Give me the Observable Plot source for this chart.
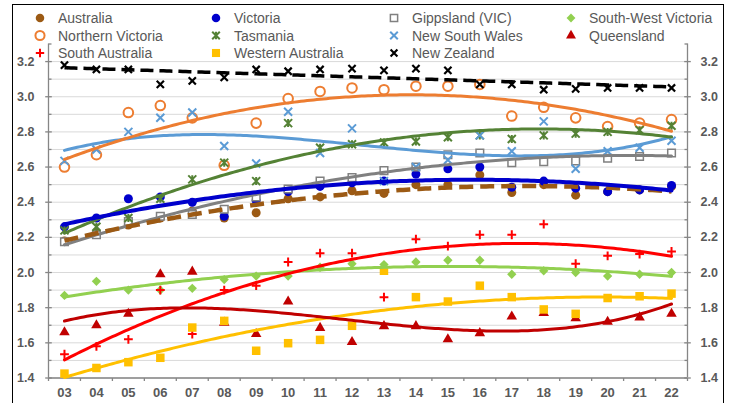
<!DOCTYPE html>
<html>
<head>
<meta charset="utf-8">
<script src="https://cdn.jsdelivr.net/npm/d3@7"></script>
<script src="https://cdn.jsdelivr.net/npm/@observablehq/plot@0.6"></script>
<style>
  html, body { margin: 0; padding: 0; background: #fff; }
  #wrap { position: relative; width: 733px; height: 403px; overflow: hidden; font-family: "Liberation Sans", Arial, sans-serif; }
  #border { position: absolute; left: 12px; top: 4px; width: 712px; height: 430px; border: 1.5px solid #000; box-sizing: border-box; pointer-events: none; }
  #legend { position: absolute; left: 0; top: 0; pointer-events: none; }
</style>
</head>
<body>
<div id="wrap"><div id="chart"></div><svg id="legend" width="733" height="62"></svg><div id="border"></div></div>
<script>
// ---- data ----
const years = ["03","04","05","06","07","08","09","10","11","12","13","14","15","16","17","18","19","20","21","22"];
const australia      = [2.18, 2.23, 2.27, 2.31, 2.35, 2.31, 2.34, 2.42, 2.43, 2.465, 2.45, 2.50, 2.50, 2.555, 2.455, 2.50, 2.44, 2.46, 2.47, 2.49];
const victoria       = [2.26, 2.31, 2.42, 2.43, 2.40, 2.32, 2.41, 2.46, 2.49, 2.51, 2.52, 2.56, 2.59, 2.60, 2.485, 2.52, 2.48, 2.46, 2.47, 2.495];
const gippsland      = [2.175, 2.215, 2.29, 2.32, 2.33, 2.36, 2.43, 2.475, 2.52, 2.54, 2.58, 2.60, 2.67, 2.68, 2.625, 2.63, 2.635, 2.65, 2.66, 2.68];
const southWestVic   = [1.87, 1.95, 1.90, 1.90, 1.91, 1.96, 1.98, 1.98, 2.03, 2.05, 2.045, 2.06, 2.07, 2.07, 1.99, 2.01, 2.00, 1.98, 1.99, 2.00];
const northernVic    = [2.60, 2.67, 2.91, 2.95, 2.88, 2.61, 2.85, 2.99, 3.03, 3.05, 3.04, 3.06, 3.06, 3.07, 2.89, 2.94, 2.88, 2.83, 2.85, 2.87];
const tasmania       = [2.24, 2.26, 2.31, 2.42, 2.53, 2.625, 2.52, 2.85, 2.71, 2.73, 2.74, 2.745, 2.77, 2.78, 2.76, 2.78, 2.79, 2.80, 2.81, 2.835];
const newSouthWales  = [2.635, 2.70, 2.80, 2.88, 2.91, 2.72, 2.62, 2.915, 2.68, 2.82, 2.52, 2.60, 2.64, 2.78, 2.69, 2.86, 2.59, 2.69, 2.71, 2.75];
const queensland     = [1.66, 1.70, 1.765, 1.99, 2.005, 1.715, 1.65, 1.835, 1.685, 1.605, 1.695, 1.695, 1.62, 1.655, 1.75, 1.77, 1.74, 1.72, 1.745, 1.765];
const southAustralia = [1.535, 1.58, 1.62, 1.90, 1.65, 1.90, 1.925, 2.06, 2.11, 2.11, 1.86, 2.19, 2.15, 2.215, 2.215, 2.275, 2.05, 2.095, 2.105, 2.12];
const westernAus     = [1.425, 1.457, 1.49, 1.515, 1.687, 1.725, 1.555, 1.598, 1.617, 1.697, 2.01, 1.86, 1.835, 1.925, 1.86, 1.79, 1.765, 1.855, 1.865, 1.88];
const newZealand     = [3.18, 3.155, 3.155, 3.07, 3.09, 3.11, 3.155, 3.145, 3.155, 3.16, 3.15, 3.16, 3.15, 3.07, 3.07, 3.04, 3.045, 3.05, 3.05, 3.05];
const seriesNames = ["Australia","Victoria","Gippsland (VIC)","South-West Victoria","Northern Victoria","Tasmania","New South Wales","Queensland","South Australia","Western Australia","New Zealand"];
const trendOrders = [2, 2, 2, 2, 2, 2, 3, 3, 2, 2, 1];
const yTickLabels = ["1.4","1.6","1.8","2.0","2.2","2.4","2.6","2.8","3.0","3.2"];
const yMinorTicks = ["1.5","1.7","1.9","2.1","2.3","2.5","2.7","2.9","3.1","3.3"];

// ---- symbols ----
const rad = size => Math.sqrt(size / Math.PI);
const symX = {draw(c, s){const r = rad(s); c.moveTo(-r,-r); c.lineTo(r,r); c.moveTo(r,-r); c.lineTo(-r,r);}};
const symPlus = {draw(c, s){const r = rad(s)*1.1; c.moveTo(-r,0); c.lineTo(r,0); c.moveTo(0,-r); c.lineTo(0,r);}};
const symStar = {draw(c, s){const r = rad(s); c.moveTo(-r,-r); c.lineTo(r,r); c.moveTo(r,-r); c.lineTo(-r,r); c.moveTo(0,-r); c.lineTo(0,r);}};
const tickCross = {draw(c, s){const r = rad(s); c.moveTo(-r,0); c.lineTo(r,0);}};
const tickRight = {draw(c, s){const r = rad(s); c.moveTo(0,0); c.lineTo(r,0);}};
const tickLeft  = {draw(c, s){const r = rad(s); c.moveTo(0,0); c.lineTo(-r,0);}};
const tickDown  = {draw(c, s){const r = rad(s); c.moveTo(0,0); c.lineTo(0,r);}};

const values = [australia, victoria, gippsland, southWestVic, northernVic, tasmania, newSouthWales, queensland, southAustralia, westernAus, newZealand];
const styles = [
  {color:"#9C5A14", symbol:"circle", r:4.5, fill:true, lw:4.5, dash:"14,7"},
  {color:"#0000CC", symbol:"circle", r:4.5, fill:true, lw:4},
  {color:"#808080", symbol:"square", r:4.3, fill:false, sw:1.5, lw:3},
  {color:"#92D050", symbol:"diamond2", r:4.2, fill:true, lw:3},
  {color:"#ED7D31", symbol:"circle", r:4.8, fill:false, sw:2, lw:3},
  {color:"#548235", symbol:symStar, r:4, fill:false, sw:2, lw:3},
  {color:"#5B9BD5", symbol:symX, r:4, fill:false, sw:2, lw:3},
  {color:"#C00000", symbol:"triangle", r:3.9, fill:true, lw:3},
  {color:"#FF0000", symbol:symPlus, r:4, fill:false, sw:2, lw:3},
  {color:"#FFC000", symbol:"square", r:4.8, fill:true, lw:3},
  {color:"#000000", symbol:symX, r:3.6, fill:false, sw:2.2, lw:3.5, dash:"13,6"}
];

// ---- polynomial trend (least squares, like a spreadsheet polynomial trendline) ----
function polyfit(xs, ys, deg) {
  const m = deg + 1, xm = d3.mean(xs), sc = 10;
  const A = Array.from({length: m}, () => Array(m + 1).fill(0));
  xs.forEach((x, i) => {
    const t = (x - xm) / sc, p = d3.range(m).map(k => t ** k);
    for (let r = 0; r < m; r++) { for (let c = 0; c < m; c++) A[r][c] += p[r] * p[c]; A[r][m] += p[r] * ys[i]; }
  });
  for (let c = 0; c < m; c++) {
    let piv = c;
    for (let r = c + 1; r < m; r++) if (Math.abs(A[r][c]) > Math.abs(A[piv][c])) piv = r;
    [A[c], A[piv]] = [A[piv], A[c]];
    for (let r = 0; r < m; r++) if (r !== c) { const f = A[r][c] / A[c][c]; for (let k = c; k <= m; k++) A[r][k] -= f * A[c][k]; }
  }
  const coef = d3.range(m).map(k => A[k][m] / A[k][k]);
  return x => coef.reduce((s, c, k) => s + c * ((x - xm) / sc) ** k, 0);
}

const xs = years.map(Number);
const points = [], trends = [];
values.forEach((vals, si) => {
  vals.forEach((v, i) => points.push({series: si, x: xs[i], y: v}));
  const f = polyfit(xs, vals, trendOrders[si]);
  const lo = d3.min(xs), hi = d3.max(xs);
  for (let t = lo; t <= hi + 1e-9; t += 0.1) trends.push({series: si, x: t, y: f(t)});
});

const xMin = d3.min(xs) - 0.5, xMax = d3.max(xs) + 0.5;
const yMajor = yTickLabels.map(Number), yMinor = yMinorTicks.map(Number);
const grid = [...yMajor, ...yMinor.filter(v => v < d3.max(yMajor) + 1e-9)];
const xBounds = d3.range(xMin, xMax + 0.01, 1);
const axisColor = "#868686", textColor = "#595959";
const yFmt = d => yTickLabels[d3.minIndex(yMajor, v => Math.abs(v - d))];
const xFmt = d => years[d3.minIndex(xs, v => Math.abs(v - d))];

const marks = [
  Plot.ruleY(grid, {stroke: "#D9D9D9", strokeWidth: 1}),
  Plot.ruleX([xMin, xMax], {y1: d3.min(yMajor), y2: d3.max(yMinor), stroke: axisColor, strokeWidth: 1.3}),
  Plot.ruleY([d3.min(yMajor)], {stroke: axisColor, strokeWidth: 1.3}),
  // tick marks
  Plot.dot(yMajor, {x: xMin, y: d => d, symbol: tickCross, r: 3.3, stroke: axisColor, strokeWidth: 1.3, fill: "none"}),
  Plot.dot(yMajor, {x: xMax, y: d => d, symbol: tickCross, r: 3.3, stroke: axisColor, strokeWidth: 1.3, fill: "none"}),
  Plot.dot(yMinor, {x: xMin, y: d => d, symbol: tickRight, r: 3, stroke: axisColor, strokeWidth: 1.3, fill: "none"}),
  Plot.dot(yMinor, {x: xMax, y: d => d, symbol: tickLeft, r: 3, stroke: axisColor, strokeWidth: 1.3, fill: "none"}),
  Plot.dot(xBounds, {x: d => d, y: d3.min(yMajor), symbol: tickDown, r: 3, stroke: axisColor, strokeWidth: 1.3, fill: "none"}),
  // axis labels
  Plot.axisY({ticks: yMajor, anchor: "left", label: null, tickSize: 0, tickPadding: 14, tickFormat: yFmt, fill: textColor, fontSize: 12.5, fontWeight: "bold"}),
  Plot.axisY({ticks: yMajor, anchor: "right", label: null, tickSize: 0, tickPadding: 13, tickFormat: yFmt, fill: textColor, fontSize: 12.5, fontWeight: "bold"}),
  Plot.axisX({ticks: xs, anchor: "bottom", label: null, tickSize: 0, tickPadding: 10, tickFormat: xFmt, fill: textColor, fontSize: 13, fontWeight: "bold"})
];

// markers
styles.forEach((st, si) => {
  marks.push(Plot.dot(points.filter(p => p.series === si), {
    x: "x", y: "y", symbol: st.symbol, r: st.r,
    fill: st.fill ? st.color : (st.symbol === "circle" || st.symbol === "square" ? "white" : "none"),
    stroke: st.fill ? "none" : st.color, strokeWidth: st.sw || 1
  }));
});
// trend lines
const trendOrder = [3, 8, 9, 7, 6, 4, 5, 2, 0, 1, 10];
trendOrder.forEach(si => {
  const st = styles[si];
  marks.push(Plot.line(trends.filter(p => p.series === si), {
    x: "x", y: "y", stroke: st.color, strokeWidth: st.lw, strokeDasharray: st.dash || null,
    strokeLinecap: st.dash ? "butt" : "round", curve: "linear"
  }));
});

const chart = Plot.plot({
  width: 733, height: 403,
  marginLeft: 48, marginRight: 46, marginTop: 43.5, marginBottom: 25.5,
  x: {type: "linear", domain: [xMin, xMax], axis: null},
  y: {type: "linear", domain: [d3.min(yMajor), d3.max(yMinor)], axis: null},
  style: {fontFamily: "'Liberation Sans', Arial, sans-serif", background: "white", overflow: "visible"},
  marks
});
document.getElementById("chart").appendChild(chart);

// ---- legend ----
const lg = d3.select("#legend");
const colX = [40, 216, 394, 571];
const rowY = [18, 35.5, 53];
function symPath(sym, r) {
  const type = typeof sym === "string"
    ? ({circle: d3.symbolCircle, square: d3.symbolSquare, diamond2: d3.symbolDiamond2, triangle: d3.symbolTriangle})[sym]
    : sym;
  return d3.symbol(type, r * r * Math.PI)();
}
seriesNames.forEach((name, i) => {
  const st = styles[i];
  const col = i % 4, row = Math.floor(i / 4);
  const g = lg.append("g").attr("transform", `translate(${colX[col]},${rowY[row]})`);
  g.append("path").attr("d", symPath(st.symbol, st.r * 0.95))
    .attr("fill", st.fill ? st.color : (st.symbol === "circle" || st.symbol === "square" ? "white" : "none"))
    .attr("stroke", st.fill ? "none" : st.color).attr("stroke-width", st.sw || 1);
  g.append("text").attr("x", 18).attr("y", 0).attr("dy", "0.36em")
    .attr("font-size", 14).attr("fill", textColor)
    .attr("font-family", "'Liberation Sans', Arial, sans-serif").text(name);
});
</script>
</body>
</html>
